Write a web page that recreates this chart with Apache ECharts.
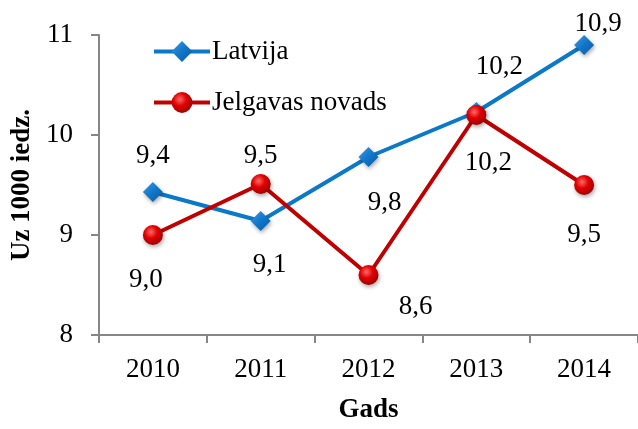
<!DOCTYPE html>
<html>
<head>
<meta charset="utf-8">
<script src="https://cdn.jsdelivr.net/npm/echarts@6/dist/echarts.min.js"></script>
<style>
  html, body { margin: 0; padding: 0; background: #fff; }
  #chart { width: 638px; height: 429px; }
</style>
</head>
<body>
<div id="chart"></div>
<script>
const years = ['2010', '2011', '2012', '2013', '2014']
const latvija = [9.43, 9.14, 9.78, 10.23, 10.9]
const jelgava = [9.0, 9.51, 8.6, 10.2, 9.5]

// label offsets relative to marker centre (manually placed like in the source)
const latvijaOffsets = [[0, -36], [9, 44], [16, 46], [23, -45], [14, -21]]
const jelgavaOffsets = [[-7, 45], [0, -28], [47, 32], [12, 48], [0, 50]]

const font = 'Liberation Serif'
const fontSize = 27
const fmt = v => v.toFixed(1).replace('.', ',')

function withLabels(values, offsets) {
  return values.map((v, i) => ({
    value: v,
    label: { offset: offsets[i] }
  }))
}

const chart = echarts.init(document.getElementById('chart'))

const blueSymbol = {
  type: 'linear', x: 0, y: 0, x2: 1, y2: 1,
  colorStops: [
    { offset: 0, color: '#3a9be6' },
    { offset: 0.5, color: '#1176c9' },
    { offset: 1, color: '#0a5a9e' }
  ]
}
const redSymbol = {
  type: 'radial', x: 0.4, y: 0.35, r: 0.7,
  colorStops: [
    { offset: 0, color: '#ff6a6a' },
    { offset: 0.45, color: '#e00000' },
    { offset: 1, color: '#9a0000' }
  ]
}

const labelStyle = {
  show: true,
  position: 'inside',
  formatter: p => fmt(p.value),
  fontFamily: font,
  fontSize: fontSize,
  color: '#000'
}

chart.setOption({
  animation: false,
  grid: { left: 99, right: 0, top: 35, bottom: 91 },
  legend: {
    orient: 'vertical',
    left: 152,
    top: 38,
    padding: 0,
    itemWidth: 56,
    itemHeight: 26,
    itemGap: 24,
    lineStyle: { width: 4 },
    textStyle: { fontFamily: font, fontSize: fontSize, color: '#000', padding: [0, 0, 0, -3] },
    data: ['Latvija', 'Jelgavas novads']
  },
  xAxis: {
    type: 'category',
    data: years,
    boundaryGap: true,
    name: 'Gads',
    nameLocation: 'middle',
    nameGap: 62,
    nameTextStyle: { fontFamily: font, fontSize: fontSize, fontWeight: 'bold', color: '#000' },
    axisLine: { lineStyle: { color: '#868686', width: 2 } },
    axisTick: { show: true, length: 8, lineStyle: { color: '#868686', width: 2 } },
    axisLabel: { fontFamily: font, fontSize: fontSize, color: '#000', margin: 21 }
  },
  yAxis: {
    type: 'value',
    min: 8,
    max: 11,
    interval: 1,
    name: 'Uz 1000 iedz.',
    nameLocation: 'middle',
    nameGap: 61,
    nameTextStyle: { fontFamily: font, fontSize: fontSize, fontWeight: 'bold', color: '#000' },
    axisLine: { show: true, lineStyle: { color: '#868686', width: 2 } },
    axisTick: { show: true, length: 8, lineStyle: { color: '#868686', width: 2 } },
    axisLabel: { fontFamily: font, fontSize: fontSize, color: '#000', margin: 26 },
    splitLine: { show: false }
  },
  series: [
    {
      name: 'Latvija',
      type: 'line',
      data: withLabels(latvija, latvijaOffsets),
      symbol: 'diamond',
      symbolSize: 20,
      lineStyle: { color: '#0b78c8', width: 4 },
      itemStyle: {
        color: blueSymbol,
        shadowColor: 'rgba(0,0,0,0.35)',
        shadowBlur: 4,
        shadowOffsetX: 1,
        shadowOffsetY: 2
      },
      label: labelStyle,
      z: 2
    },
    {
      name: 'Jelgavas novads',
      type: 'line',
      data: withLabels(jelgava, jelgavaOffsets),
      symbol: 'circle',
      symbolSize: 20,
      lineStyle: { color: '#c00000', width: 4 },
      itemStyle: {
        color: redSymbol,
        shadowColor: 'rgba(0,0,0,0.35)',
        shadowBlur: 4,
        shadowOffsetX: 1,
        shadowOffsetY: 2
      },
      label: labelStyle,
      z: 3
    }
  ]
})
</script>
</body>
</html>
